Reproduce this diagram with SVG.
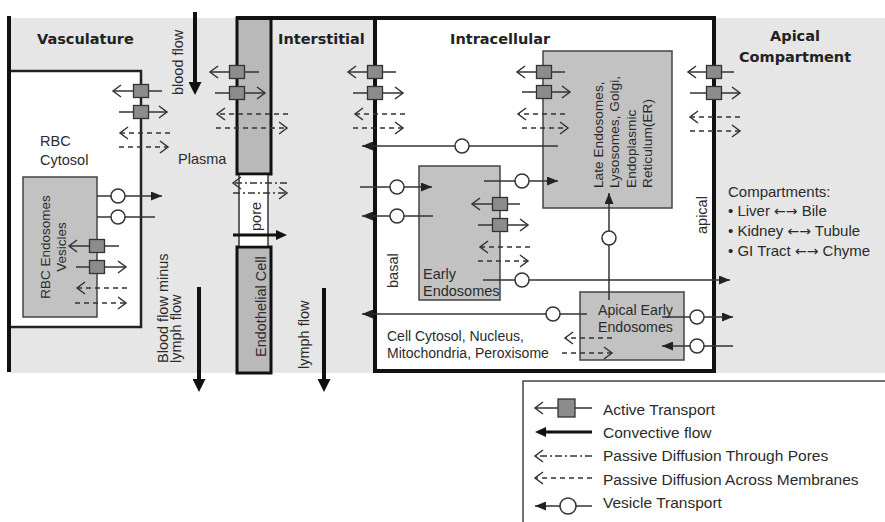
<svg xmlns="http://www.w3.org/2000/svg" width="885" height="522" viewBox="0 0 885 522">
<defs>
<style>
text{font-family:"Liberation Sans",Arial,sans-serif;font-size:14.5px;fill:#2b2b2b}
.ttl{font-family:"DejaVu Sans",sans-serif;font-weight:bold;font-size:14.5px;fill:#222}
.lg{font-size:15.5px}
.arr{font-family:"DejaVu Sans",sans-serif;font-size:14px}
.ln{stroke:#333;stroke-width:1.5;fill:none}
.dash{stroke-dasharray:5 4}
.dd{stroke-dasharray:7 3 2 3}
.at{fill:#8c8c8c;stroke:#333;stroke-width:1.3}
.ves{fill:#fff;stroke:#333;stroke-width:1.5}
.box{fill:#c2c2c2;stroke:#444;stroke-width:1.5}
.flow{stroke:#111;stroke-width:4;fill:none}
</style>
<marker id="open" markerUnits="userSpaceOnUse" markerWidth="12" markerHeight="14" viewBox="0 0 12 14" refX="10" refY="7" orient="auto"><path d="M2,1 L10,7 L2,13" fill="none" stroke="#333" stroke-width="1.5"/></marker>
<marker id="fill" markerUnits="userSpaceOnUse" markerWidth="11" markerHeight="9" viewBox="0 0 11 9" refX="11" refY="4.5" orient="auto"><path d="M0,0 L11,4.5 L0,9 z" fill="#222"/></marker>
<marker id="big" markerUnits="userSpaceOnUse" markerWidth="13" markerHeight="13" viewBox="0 0 13 13" refX="7" refY="6.5" orient="auto"><path d="M0,0 L13,6.5 L0,13 z" fill="#111"/></marker>
<marker id="med" markerUnits="userSpaceOnUse" markerWidth="11" markerHeight="10" viewBox="0 0 11 10" refX="6" refY="5" orient="auto"><path d="M0,0 L11,5 L0,10 z" fill="#111"/></marker>
</defs>

<g id="background"><rect x="10" y="18" width="875" height="355" fill="#e6e6e6"/></g>

<g id="rbc-cytosol">
<rect x="9" y="71" width="132" height="256" fill="#fff" stroke="#222" stroke-width="2.5"/>
<text x="40" y="146">RBC</text>
<text x="40" y="165">Cytosol</text>
</g>

<g id="vasculature">
<line x1="9" y1="16" x2="9" y2="372" stroke="#111" stroke-width="4"/>
<text class="ttl" x="37" y="44">Vasculature</text>
<text x="178" y="164">Plasma</text>
</g>

<g id="rbc-endosomes">
<rect class="box" x="23" y="177" width="74" height="140"/>
<text transform="translate(50,247) rotate(-90)" text-anchor="middle" style="font-size:13.5px">RBC Endosomes</text>
<text transform="translate(66,247) rotate(-90)" text-anchor="middle" style="font-size:13.5px">Vesicles</text>
</g>

<g id="endothelial-cell">
<rect x="237" y="18" width="34" height="156" fill="#b9b9b9" stroke="#111" stroke-width="3"/>
<rect x="237" y="247" width="34" height="126" fill="#b9b9b9" stroke="#111" stroke-width="3"/>
<text transform="translate(266,357) rotate(-90)">Endothelial Cell</text>
</g>

<g id="pore">
<rect x="239" y="175.5" width="29" height="70" fill="#fff"/>
<line x1="239" y1="175" x2="239" y2="246" stroke="#333" stroke-width="1.5"/>
<line x1="268" y1="175" x2="268" y2="246" stroke="#333" stroke-width="1.5"/>
<text transform="translate(261,231) rotate(-90)">pore</text>
</g>

<g id="interstitial">
<line x1="236" y1="18" x2="377" y2="18" stroke="#111" stroke-width="4"/>
<text class="ttl" x="278" y="44">Interstitial</text>
</g>

<g id="intracellular">
<rect x="375" y="18" width="339" height="353" fill="#fff" stroke="#111" stroke-width="4"/>
<text class="ttl" x="450" y="44">Intracellular</text>
<text transform="translate(398,288) rotate(-90)">basal</text>
<text transform="translate(707,234) rotate(-90)">apical</text>
<text x="387" y="341" style="font-size:14px">Cell Cytosol, Nucleus,</text>
<text x="387" y="358" style="font-size:14px">Mitochondria, Peroxisome</text>
</g>

<g id="late-endosomes">
<rect class="box" x="543" y="51" width="129" height="157"/>
<text transform="translate(603,188) rotate(-90)" style="font-size:13.7px">Late Endosomes,</text>
<text transform="translate(619,188) rotate(-90)" style="font-size:13.7px">Lysosomes, Golgi,</text>
<text transform="translate(636,188) rotate(-90)" style="font-size:13.7px">Endoplasmic</text>
<text transform="translate(652,188) rotate(-90)" style="font-size:13.7px">Reticulum(ER)</text>
</g>

<g id="early-endosomes">
<rect class="box" x="419" y="166" width="81" height="134"/>
<text x="423" y="279">Early</text>
<text x="423" y="296">Endosomes</text>
</g>

<g id="apical-early-endosomes">
<rect class="box" x="580" y="292" width="104" height="68"/>
<text x="598" y="315" style="font-size:14.2px">Apical Early</text>
<text x="598" y="332" style="font-size:14.2px">Endosomes</text>
</g>

<g id="apical-compartment">
<text class="ttl" x="795" y="41" text-anchor="middle">Apical</text>
<text class="ttl" x="795" y="62" text-anchor="middle">Compartment</text>
<text x="728" y="197" style="font-size:15px">Compartments:</text>
<text x="728" y="216" style="font-size:15px">• Liver <tspan class="arr">←→</tspan>  Bile</text>
<text x="728" y="236" style="font-size:15px">• Kidney <tspan class="arr">←→</tspan> Tubule</text>
<text x="728" y="256" style="font-size:15px">• GI Tract <tspan class="arr">←→</tspan> Chyme</text>
</g>

<g id="connectors">
<line class="flow" x1="195" y1="12" x2="195" y2="89" marker-end="url(#big)"/>
<line class="flow" x1="199" y1="287" x2="199" y2="386" marker-end="url(#big)"/>
<line class="flow" x1="324" y1="288" x2="324" y2="386" marker-end="url(#big)"/>
<line x1="233" y1="235" x2="282" y2="235" stroke="#111" stroke-width="3" marker-end="url(#med)"/>
<text transform="translate(183,95) rotate(-90)">blood flow</text>
<text transform="translate(168,363) rotate(-90)">Blood flow minus</text>
<text transform="translate(181,363) rotate(-90)">lymph flow</text>
<text transform="translate(309,369) rotate(-90)">lymph flow</text>

<line class="ln" x1="162" y1="91" x2="113" y2="91" marker-end="url(#open)"/>
<line class="ln" x1="119" y1="112" x2="167" y2="112" marker-end="url(#open)"/>
<rect class="at" x="133.5" y="84.5" width="15" height="13"/>
<rect class="at" x="133.5" y="105.5" width="15" height="13"/>
<line class="ln dash" x1="170" y1="133" x2="120" y2="133" marker-end="url(#open)"/>
<line class="ln dash" x1="119" y1="147" x2="168" y2="147" marker-end="url(#open)"/>

<line class="ln" x1="97" y1="196" x2="162" y2="196" marker-end="url(#fill)"/>
<circle class="ves" cx="118" cy="196" r="7"/>
<line class="ln" x1="155" y1="217" x2="97" y2="217"/>
<circle class="ves" cx="118" cy="217" r="7"/>
<line class="ln" x1="119" y1="246" x2="69" y2="246" marker-end="url(#open)"/>
<line class="ln" x1="76" y1="267" x2="126" y2="267" marker-end="url(#open)"/>
<rect class="at" x="89.5" y="239.5" width="15" height="13"/>
<rect class="at" x="89.5" y="260.5" width="15" height="13"/>
<line class="ln dash" x1="127" y1="288" x2="77" y2="288" marker-end="url(#open)"/>
<line class="ln dash" x1="75" y1="303" x2="126" y2="303" marker-end="url(#open)"/>

<line class="ln" x1="259" y1="72" x2="210" y2="72" marker-end="url(#open)"/>
<line class="ln" x1="215" y1="93" x2="265" y2="93" marker-end="url(#open)"/>
<rect class="at" x="229.5" y="65.5" width="15" height="13"/>
<rect class="at" x="229.5" y="86.5" width="15" height="13"/>
<line class="ln dash" x1="288" y1="114" x2="217" y2="114" marker-end="url(#open)"/>
<line class="ln dash" x1="216" y1="128" x2="287" y2="128" marker-end="url(#open)"/>
<line class="ln dd" x1="287" y1="183" x2="233" y2="183" marker-end="url(#open)"/>
<line class="ln dd" x1="233" y1="193" x2="287" y2="193" marker-end="url(#open)"/>

<line class="ln" x1="396" y1="72" x2="348" y2="72" marker-end="url(#open)"/>
<line class="ln" x1="353" y1="93" x2="403" y2="93" marker-end="url(#open)"/>
<rect class="at" x="367.5" y="65.5" width="15" height="13"/>
<rect class="at" x="367.5" y="86.5" width="15" height="13"/>
<line class="ln dash" x1="405" y1="114" x2="355" y2="114" marker-end="url(#open)"/>
<line class="ln dash" x1="353" y1="128" x2="403" y2="128" marker-end="url(#open)"/>

<line class="ln" x1="565" y1="72" x2="517" y2="72" marker-end="url(#open)"/>
<line class="ln" x1="522" y1="92" x2="570" y2="92" marker-end="url(#open)"/>
<rect class="at" x="536.5" y="65.5" width="15" height="13"/>
<rect class="at" x="536.5" y="85.5" width="15" height="13"/>
<line class="ln dash" x1="565" y1="114" x2="518" y2="114" marker-end="url(#open)"/>
<line class="ln dash" x1="522" y1="128" x2="568" y2="128" marker-end="url(#open)"/>

<line class="ln" x1="734" y1="72" x2="688" y2="72" marker-end="url(#open)"/>
<line class="ln" x1="690" y1="93" x2="740" y2="93" marker-end="url(#open)"/>
<rect class="at" x="706.5" y="65.5" width="15" height="13"/>
<rect class="at" x="706.5" y="86.5" width="15" height="13"/>
<line class="ln dash" x1="740" y1="117" x2="690" y2="117" marker-end="url(#open)"/>
<line class="ln dash" x1="690" y1="131" x2="740" y2="131" marker-end="url(#open)"/>

<line class="ln" x1="520" y1="204" x2="472" y2="204" marker-end="url(#open)"/>
<line class="ln" x1="478" y1="225" x2="528" y2="225" marker-end="url(#open)"/>
<rect class="at" x="492.5" y="197.5" width="15" height="13"/>
<rect class="at" x="492.5" y="218.5" width="15" height="13"/>
<line class="ln dash" x1="530" y1="247" x2="480" y2="247" marker-end="url(#open)"/>
<line class="ln dash" x1="478" y1="261" x2="528" y2="261" marker-end="url(#open)"/>

<line class="ln" x1="558" y1="146" x2="362" y2="146" marker-end="url(#fill)"/>
<circle class="ves" cx="462" cy="146" r="7"/>
<line class="ln" x1="360" y1="187" x2="432" y2="187" marker-end="url(#fill)"/>
<circle class="ves" cx="397" cy="187" r="7"/>
<line class="ln" x1="433" y1="216" x2="362" y2="216" marker-end="url(#fill)"/>
<circle class="ves" cx="397" cy="216" r="7"/>
<line class="ln" x1="484" y1="181" x2="558" y2="181" marker-end="url(#fill)"/>
<circle class="ves" cx="522" cy="181" r="7"/>
<line class="ln" x1="483" y1="280" x2="730" y2="280" marker-end="url(#fill)"/>
<circle class="ves" cx="522" cy="280" r="7"/>
<line class="ln" x1="587" y1="314" x2="362" y2="314" marker-end="url(#fill)"/>
<circle class="ves" cx="553" cy="314" r="7"/>
<line class="ln" x1="609" y1="300" x2="609" y2="193" marker-end="url(#fill)"/>
<circle class="ves" cx="609" cy="238" r="7"/>
<line class="ln" x1="662" y1="317" x2="733" y2="317" marker-end="url(#fill)"/>
<circle class="ves" cx="697" cy="317" r="7"/>
<line class="ln" x1="733" y1="346" x2="662" y2="346" marker-end="url(#fill)"/>
<circle class="ves" cx="697" cy="346" r="7"/>

<line class="ln dash" x1="612" y1="338" x2="565" y2="338" marker-end="url(#open)"/>
<line class="ln dash" x1="562" y1="353" x2="612" y2="353" marker-end="url(#open)"/>
</g>

<g id="legend">
<path d="M523,522 V381 H885" fill="none" stroke="#444" stroke-width="1.5"/>
<line class="ln" x1="592" y1="408" x2="535" y2="408" marker-end="url(#open)"/>
<rect class="at" x="558" y="399" width="17" height="18"/>
<text class="lg" x="603" y="415">Active Transport</text>
<line x1="592" y1="432" x2="540" y2="432" stroke="#111" stroke-width="3" marker-end="url(#med)"/>
<text class="lg" x="603" y="438">Convective flow</text>
<line class="ln dd" x1="592" y1="456" x2="535" y2="456" marker-end="url(#open)"/>
<text class="lg" x="603" y="461">Passive Diffusion Through Pores</text>
<line class="ln dash" x1="592" y1="478" x2="535" y2="478" marker-end="url(#open)"/>
<text class="lg" x="603" y="485">Passive Diffusion Across Membranes</text>
<line class="ln" x1="592" y1="506" x2="535" y2="506" marker-end="url(#fill)"/>
<circle class="ves" cx="568" cy="506" r="8"/>
<text class="lg" x="603" y="508">Vesicle Transport</text>
</g>
</svg>
